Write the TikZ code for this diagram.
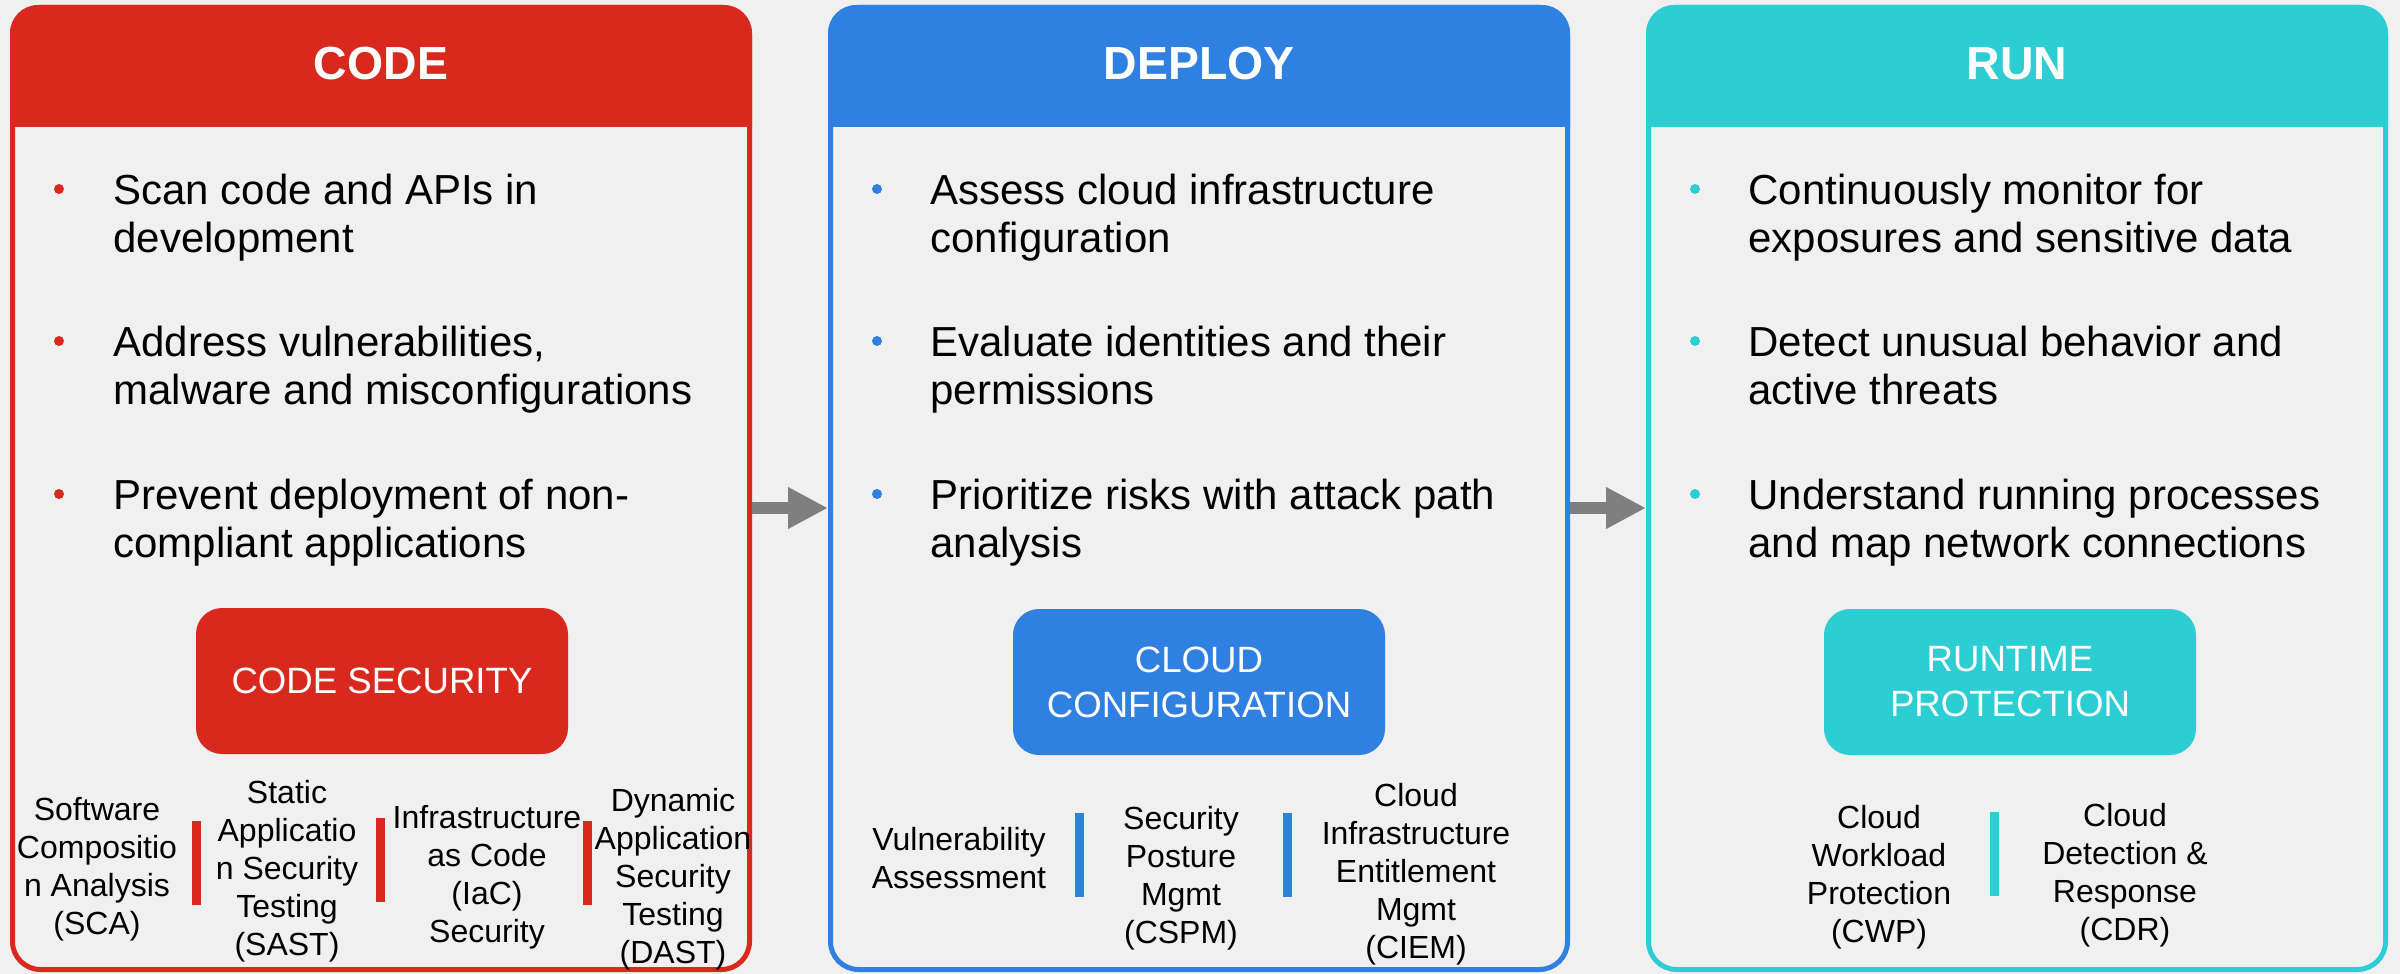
\documentclass[tikz,border=0pt]{standalone}
\usepackage{fontspec}
\setmainfont{Liberation Sans}
\usepackage{tikz}
\usetikzlibrary{arrows.meta}
\definecolor{codered}{RGB}{217,41,30}
\definecolor{deployblue}{RGB}{47,128,225}
\definecolor{runteal}{RGB}{45,205,212}
\definecolor{canvas}{RGB}{240,240,240}
\definecolor{flowgray}{RGB}{127,127,127}

\begin{document}
\begin{tikzpicture}
	[%
	x=0.5pt, y=-0.5pt,%
	panel/.style ={rectangle,	draw=#1,	line width=2.5pt,	rounded corners=14pt,	inner sep=0pt,	minimum width=368.5pt,	minimum height=481pt},%
	title/.style ={text=white,	inner sep=0pt,	font=\fontsize{23.2}{28}\selectfont\bfseries},%
	dot/.style   ={circle,	fill=#1,	inner sep=0pt,	minimum size=5pt},%
	point/.style ={anchor=north west,	align=left,	inner sep=0pt,	font=\fontsize{21}{23.75}\selectfont},%
	tool/.style  ={rectangle,	fill=#1,	rounded corners=13pt,	text=white,	align=center,	inner sep=0pt,	minimum width=186pt,	minimum height=73pt,	font=\fontsize{18.3}{22.5}\selectfont},%
	part/.style  ={align=center,	inner sep=0pt,	font=\fontsize{16}{19}\selectfont},%
	bar/.style   ={rectangle,	fill=#1,	inner sep=0pt,	minimum width=4.5pt,	minimum height=42pt},%
	flow/.style  ={draw=flowgray,	line width=6pt,	-{Triangle[length=20pt,width=19.5pt]}},%
	]

	\newcommand{\lcode}{381}
	\newcommand{\ldeploy}{1199}
	\newcommand{\lrun}{2017}

	\fill [canvas] (0,0) rectangle (2400,974);
	\useasboundingbox (0,0) rectangle (2400,974);

	% panels
	\foreach \p/\x/\col/\ttl in {code/\lcode/codered/CODE, deploy/\ldeploy/deployblue/DEPLOY, run/\lrun/runteal/RUN}{%
		\begin{scope}
			\clip (\x-371,5) rectangle (\x+371,127);
			\fill [\col, rounded corners=14pt] (\x-371,5) rectangle (\x+371,220);
		\end{scope}
		\node (\p) at (\x,488.5) [panel=\col] {};
		\node (\p title) at (\x,64) [title] {\ttl};
	}

	% bullets
	\foreach \p/\x/\col in {code/10/codered, deploy/828/deployblue, run/1646/runteal}%
		\foreach \i/\y in {1/189, 2/341, 3/494}%
			\node (\p dot\i) at (\x+49,\y) [dot=\col] {};

	\node (code point1)   at (113,174) [point] {Scan code and APIs in\\development};
	\node (code point2)   at (113,326) [point] {Address vulnerabilities,\\malware and misconfigurations};
	\node (code point3)   at (113,479) [point] {Prevent deployment of non-\\compliant applications};
	\node (deploy point1) at (930,174) [point] {Assess cloud infrastructure\\configuration};
	\node (deploy point2) at (930,326) [point] {Evaluate identities and their\\permissions};
	\node (deploy point3) at (930,479) [point] {Prioritize risks with attack path\\analysis};
	\node (run point1)    at (1748,174) [point] {Continuously monitor for\\exposures and sensitive data};
	\node (run point2)    at (1748,326) [point] {Detect unusual behavior and\\active threats};
	\node (run point3)    at (1748,479) [point] {Understand running processes\\and map network connections};

	% tools
	\node (code tool)   at (382,681)  [tool=codered]    {CODE SECURITY};
	\node (deploy tool) at (1199,682) [tool=deployblue] {CLOUD\\CONFIGURATION};
	\node (run tool)    at (2010,682) [tool=runteal]    {RUNTIME\\PROTECTION};

	% parts
	\node (code sca)  at (97,869)  [part] {Software\\Compositio\\n Analysis\\(SCA)};
	\node (code sast) at (287,871) [part] {Static\\Applicatio\\n Security\\Testing\\(SAST)};
	\node (code iac)  at (487,877) [part] {Infrastructure\\as Code\\(IaC)\\Security};
	\node (code dast) at (673,879) [part] {Dynamic\\Application\\Security\\Testing\\(DAST)};
	\foreach \i/\x/\y in {1/196/863, 2/380/860, 3/587/863}%
		\node (code bar\i) at (\x,\y) [bar=codered] {};

	\node (deploy va)   at (959,858)  [part] {Vulnerability\\Assessment};
	\node (deploy cspm) at (1181,878) [part] {Security\\Posture\\Mgmt\\(CSPM)};
	\node (deploy ciem) at (1416,874) [part] {Cloud\\Infrastructure\\Entitlement\\Mgmt\\(CIEM)};
	\foreach \i/\x in {1/1079, 2/1287}%
		\node (deploy bar\i) at (\x,855) [bar=deployblue] {};

	\node (run cwp) at (1879,877) [part] {Cloud\\Workload\\Protection\\(CWP)};
	\node (run cdr) at (2125,875) [part] {Cloud\\Detection \&\\Response\\(CDR)};
	\node (run bar1) at (1994,854) [bar=runteal] {};

	% interconnections
	\draw [flow] ([yshift=-9.75pt]code.east)   -- ([yshift=-9.75pt]deploy.west);
	\draw [flow] ([yshift=-9.75pt]deploy.east) -- ([yshift=-9.75pt]run.west);

\end{tikzpicture}
\end{document}
